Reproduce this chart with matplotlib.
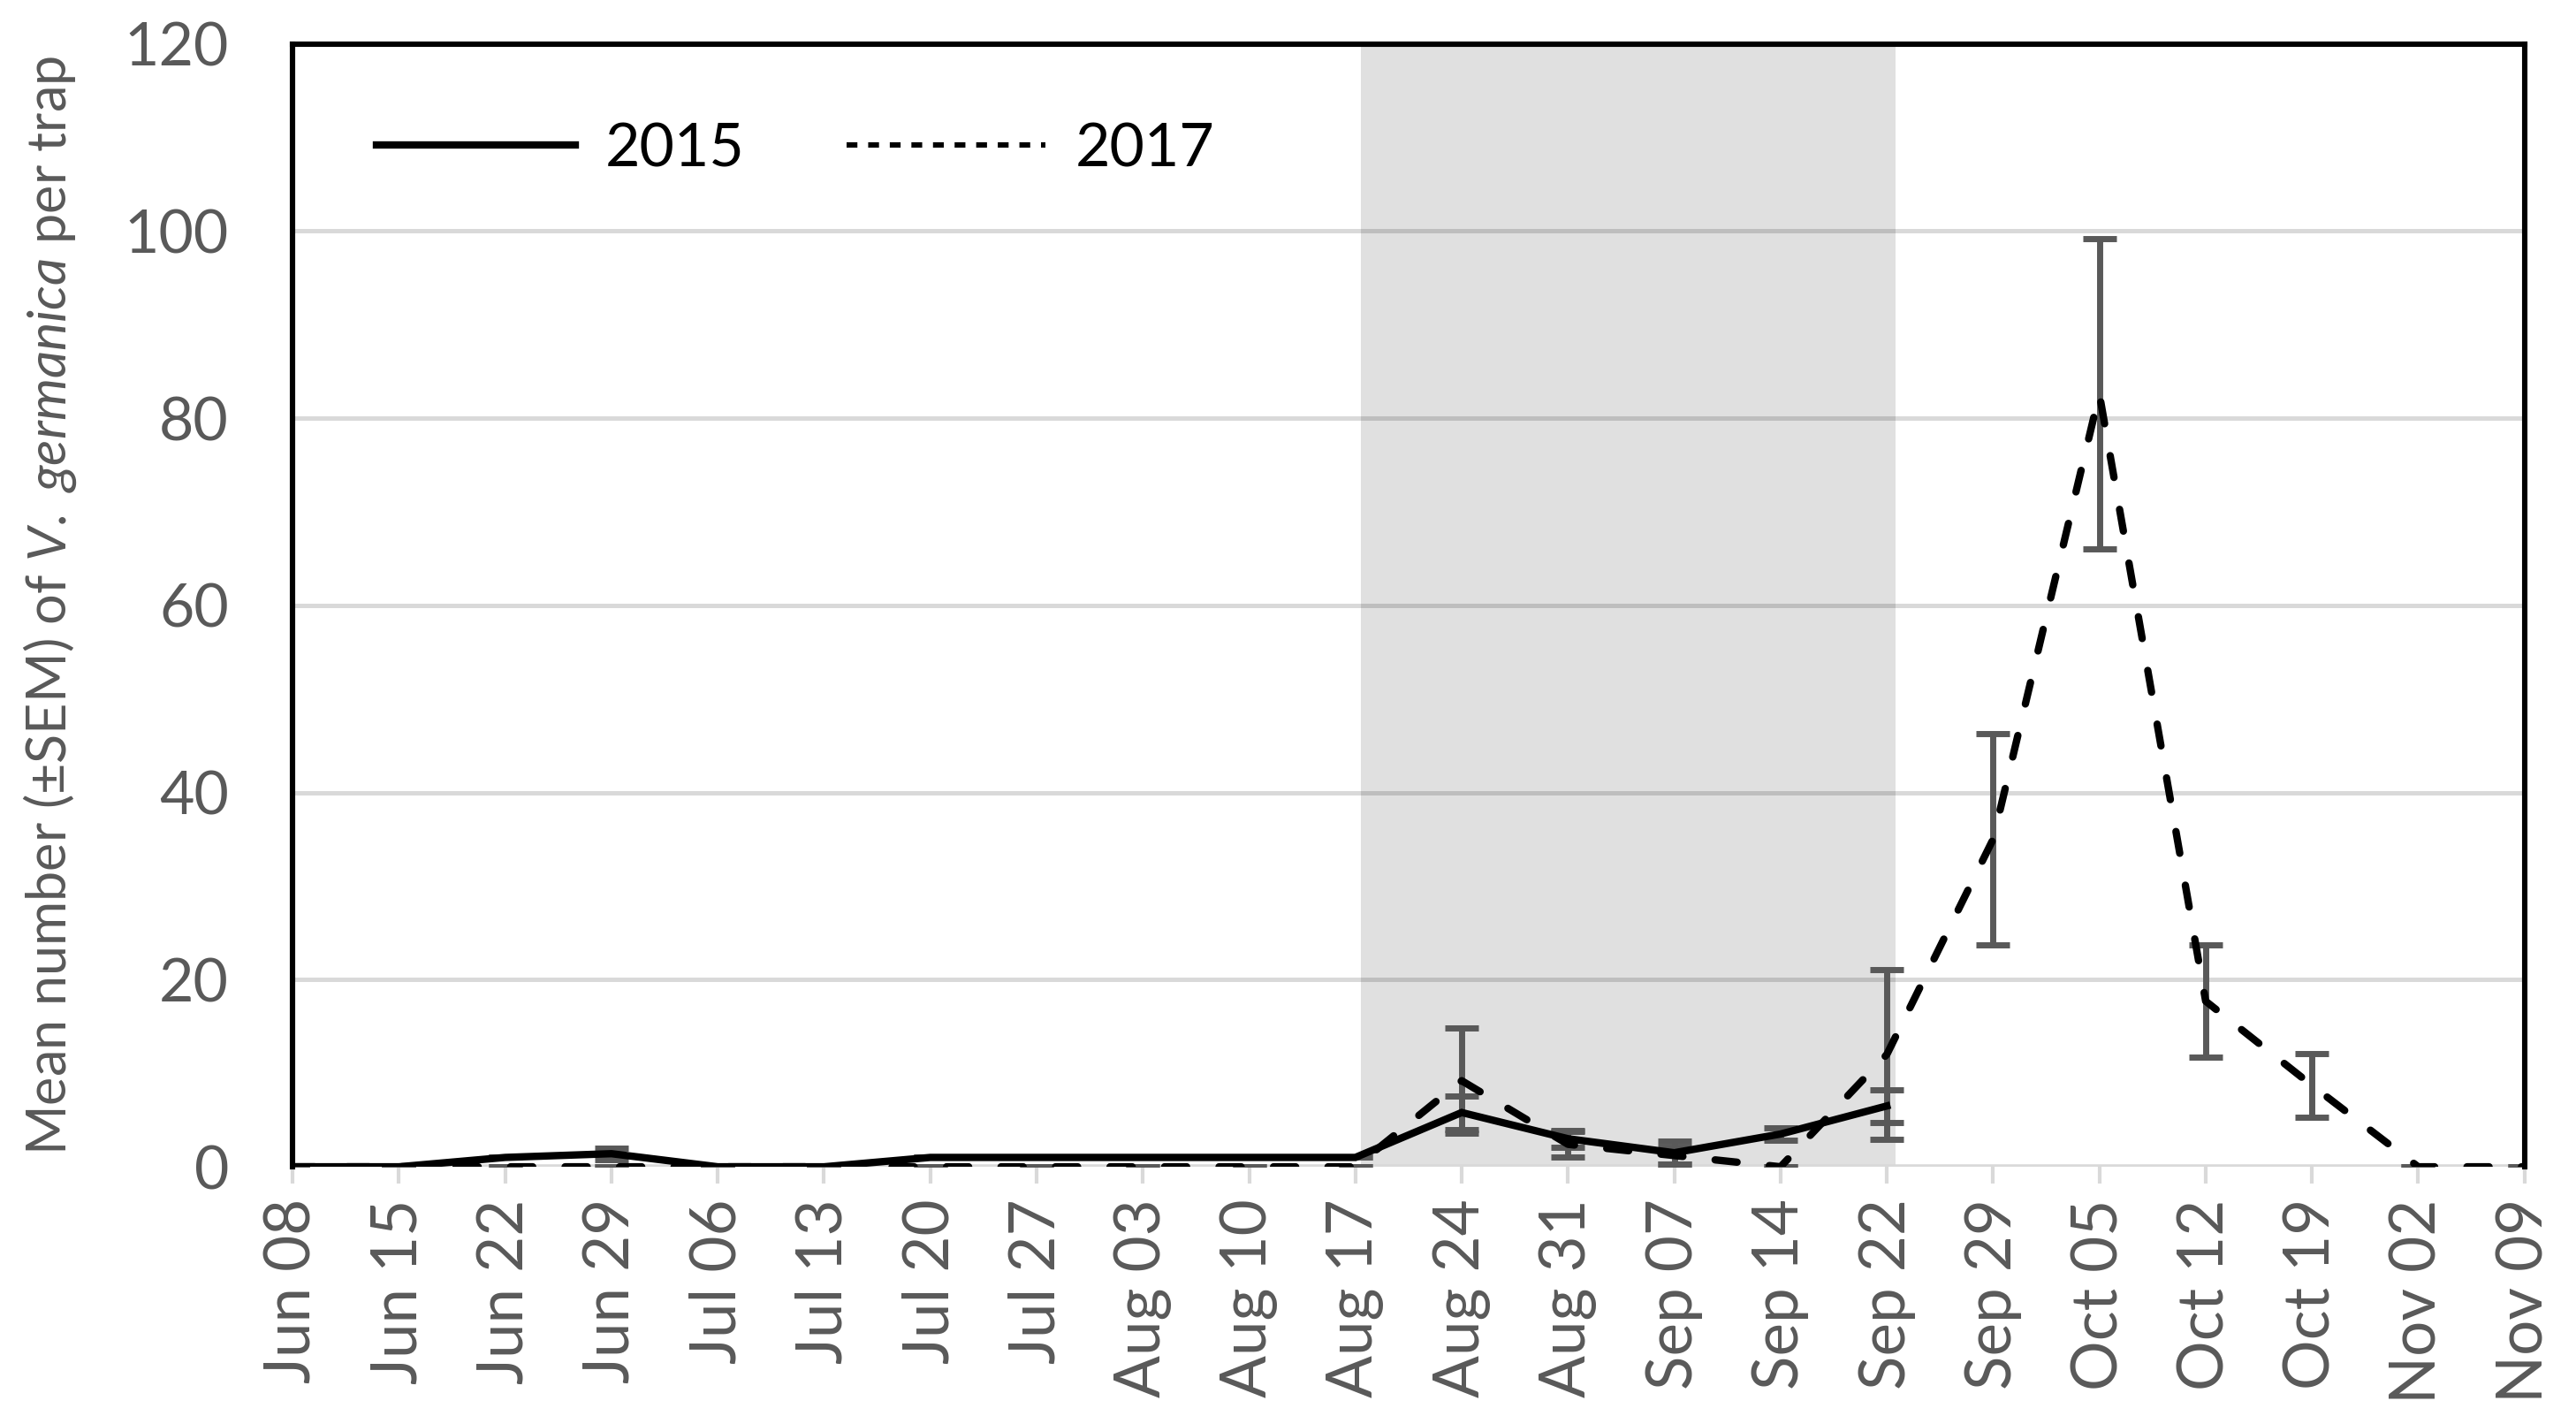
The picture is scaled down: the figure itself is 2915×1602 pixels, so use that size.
import numpy as np
import matplotlib
matplotlib.use("Agg")
import matplotlib.pyplot as plt
from matplotlib.lines import Line2D

plt.rcParams['font.family'] = ['Lato', 'DejaVu Sans']
plt.rcParams['mathtext.fontset'] = 'custom'
plt.rcParams['mathtext.rm'] = 'Lato'
plt.rcParams['mathtext.it'] = 'Lato:italic'

dates = ['Jun 08', 'Jun 15', 'Jun 22', 'Jun 29', 'Jul 06', 'Jul 13', 'Jul 20', 'Jul 27',
         'Aug 03', 'Aug 10', 'Aug 17', 'Aug 24', 'Aug 31', 'Sep 07', 'Sep 14', 'Sep 22',
         'Sep 29', 'Oct 05', 'Oct 12', 'Oct 19', 'Nov 02', 'Nov 09']
nan = np.nan
mean_2015 = [0, 0, 1.0, 1.4, 0, 0, 1.0, 1.0, 1.0, 1.0, 1.0, 5.8, 3.0, 1.5, 3.5, 6.5,
             nan, nan, nan, nan, nan, nan]
sem_2015 = [0, 0, 0, 0.6, 0, 0, 0, 0, 0, 0, 0, 1.8, 0.9, 1.2, 0.65, 1.75,
            nan, nan, nan, nan, nan, nan]
mean_2017 = [0, 0, 0, 0, 0, 0, 0, 0, 0, 0, 0, 9.2, 2.4, 1.2, 0.0, 12.0,
             35.0, 82.6, 17.7, 8.7, 0, 0]
sem_2017 = [0, 0, 0, 0, 0, 0, 0, 0, 0, 0, 0, 5.6, 1.4, 0.9, 0, 9.1,
            11.3, 16.6, 6.0, 3.4, 0, 0]
shade_start, shade_end = 10.05, 15.08

grey = '#595959'
x = np.arange(len(dates))

fig = plt.figure(figsize=(14.575, 8.01), dpi=200)
ax = fig.add_axes([0.1136, 0.176, 0.8664, 0.793])

ax.axvspan(shade_start, shade_end, color='#e0e0e0', zorder=0, lw=0)
for v in range(20, 121, 20):
    ax.axhline(v, color='black', alpha=0.15, lw=1.8, zorder=1)
ax.axhline(0, color='#d9d9d9', lw=2.0, zorder=1)

ax.errorbar(x, mean_2015, yerr=sem_2015, fmt='none', ecolor=grey, elinewidth=2.5,
            capsize=7, capthick=2.5, zorder=2)
ax.errorbar(x, mean_2017, yerr=sem_2017, fmt='none', ecolor=grey, elinewidth=2.5,
            capsize=7, capthick=2.5, zorder=2)
ax.plot(x, mean_2015, color='black', lw=3, solid_joinstyle='miter', zorder=3)
ax.plot(x, mean_2017, color='black', lw=3, dashes=(3.0, 4.4), dash_capstyle='round', zorder=4)

ax.set_xlim(0, len(dates) - 1)
ax.set_ylim(0, 120)
ax.set_yticks(range(0, 121, 20))
ax.set_xticks(x)
ax.set_xticklabels(dates, rotation=90, fontsize=25.5, color=grey)
ax.tick_params(axis='x', length=7, width=1.5, color='#d9d9d9', pad=6)
ax.tick_params(axis='y', length=0, labelsize=24.5, labelcolor=grey, pad=26)

for side in ['left', 'top', 'right']:
    ax.spines[side].set_linewidth(2.2)
    ax.spines[side].set_color('black')
ax.spines['bottom'].set_visible(False)

ax.set_ylabel('Mean number (±SEM) of $\\mathit{V.\\ germanica}$ per trap',
              fontsize=22, color=grey)
ax.yaxis.set_label_coords(-0.096, 0.5)

handles = [Line2D([], [], color='black', lw=3),
           Line2D([], [], color='black', lw=2.2, linestyle=(0, (2, 2)))]
ax.legend(handles, ['2015', '2017'], loc='center left', bbox_to_anchor=(0.0376, 0.906),
          ncol=2, frameon=False, fontsize=24.5, handlelength=3.3, handletextpad=0.5,
          columnspacing=1.7, borderpad=0, borderaxespad=0)

fig.savefig('out.png', dpi=200)
